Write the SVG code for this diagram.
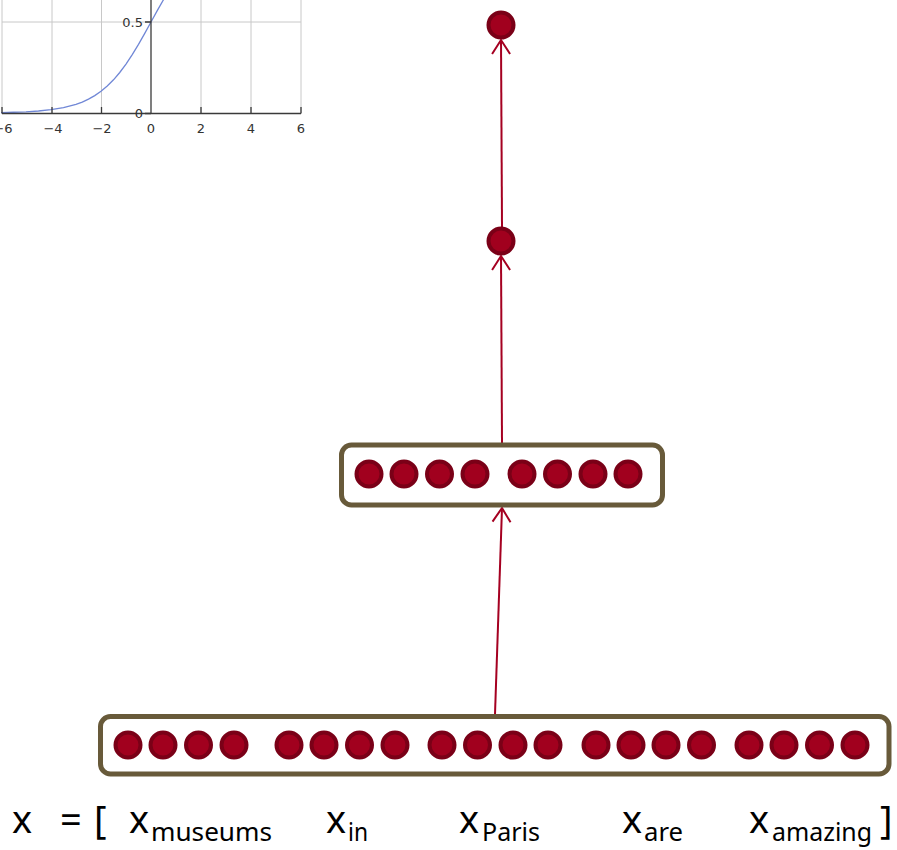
<svg xmlns="http://www.w3.org/2000/svg" width="897" height="850" viewBox="0 0 897 850">
<style>
.grid{stroke:#c8c8c8;stroke-width:1;fill:none}
.axis{stroke:#3a3a3a;stroke-width:1.3;fill:none}
.tick{font-family:"DejaVu Sans",sans-serif;font-size:13px;fill:#333}
.box{fill:#fff;stroke:#685a3a;stroke-width:5}
.unit{fill:#a1001e;stroke:#7a0017;stroke-width:4}
.conn{stroke:#a50021;stroke-width:2;fill:none}
.main{font-family:"Noto Sans",sans-serif;font-size:38px;fill:#000}
.sub{font-family:"Noto Sans",sans-serif;font-size:26px;fill:#000}
</style>
<defs>
<marker id="arr" viewBox="-16 -11 18 22" markerWidth="18" markerHeight="22" refX="0" refY="0" orient="auto" markerUnits="userSpaceOnUse">
<path d="M-14,-9 L0,0 L-14,9" fill="none" stroke="#a50021" stroke-width="2"/>
</marker>
</defs>
<rect width="897" height="850" fill="#fff"/>
<g id="sigmoid-plot">
<g class="grid">
<line x1="2" y1="0" x2="2" y2="113"/>
<line x1="52" y1="0" x2="52" y2="113"/>
<line x1="101.5" y1="0" x2="101.5" y2="113"/>
<line x1="201" y1="0" x2="201" y2="113"/>
<line x1="251" y1="0" x2="251" y2="113"/>
<line x1="301" y1="0" x2="301" y2="113"/>
<line x1="2" y1="22" x2="301" y2="22"/>
</g>
<polyline fill="none" stroke="#7087d6" stroke-width="1.3" points="1,112.55 13.5,112.26 26,111.78 38.5,111 51,109.73 63.5,107.67 76,104.37 82.25,102.06 88.5,99.19 94.75,95.65 101,91.3 107.25,86.06 113.5,79.8 119.75,72.47 126,64.06 132.25,54.61 138.5,44.3 144.75,33.32 151,22 157.25,10.68 163.5,-0.3 169.75,-10.6 176,-20"/>
<g class="axis">
<line x1="2" y1="113.5" x2="301" y2="113.5"/>
<line x1="151" y1="0" x2="151" y2="113.5"/>
<path d="M52,113.5V107 M101.5,113.5V107 M201,113.5V107 M251,113.5V107 M301,113.5V107 M2,113.5V107 M145,22H151 M145,113.5H151"/>
</g>
<text class="tick" x="143" y="26.5" text-anchor="end">0.5</text>
<text class="tick" x="143" y="118" text-anchor="end">0</text>
<text class="tick" x="3" y="133" text-anchor="middle">−6</text>
<text class="tick" x="53" y="133" text-anchor="middle">−4</text>
<text class="tick" x="102" y="133" text-anchor="middle">−2</text>
<text class="tick" x="151" y="133" text-anchor="middle">0</text>
<text class="tick" x="201" y="133" text-anchor="middle">2</text>
<text class="tick" x="251" y="133" text-anchor="middle">4</text>
<text class="tick" x="301" y="133" text-anchor="middle">6</text>
</g>
<g id="connectors">
<line class="conn" x1="495" y1="714" x2="502" y2="508" marker-end="url(#arr)"/>
<line class="conn" x1="502" y1="443" x2="501" y2="256" marker-end="url(#arr)"/>
<line class="conn" x1="502" y1="227" x2="501" y2="40" marker-end="url(#arr)"/>
</g>
<g id="output-node">
<circle class="unit" cx="501" cy="25" r="12.5"/>
</g>
<g id="hidden-node">
<circle class="unit" cx="501" cy="241" r="12.5"/>
</g>
<g id="hidden-layer">
<rect class="box" x="341.5" y="445" width="321" height="60" rx="10"/>
<circle class="unit" cx="369" cy="474" r="12.5"/>
<circle class="unit" cx="404" cy="474" r="12.5"/>
<circle class="unit" cx="439.5" cy="474" r="12.5"/>
<circle class="unit" cx="475" cy="474" r="12.5"/>
<circle class="unit" cx="522" cy="474" r="12.5"/>
<circle class="unit" cx="557.5" cy="474" r="12.5"/>
<circle class="unit" cx="593" cy="474" r="12.5"/>
<circle class="unit" cx="628" cy="474" r="12.5"/>
</g>
<g id="input-layer">
<rect class="box" x="100.5" y="716.5" width="788.5" height="57.5" rx="10"/>
<circle class="unit" cx="128" cy="745" r="12.5"/>
<circle class="unit" cx="163" cy="745" r="12.5"/>
<circle class="unit" cx="198.5" cy="745" r="12.5"/>
<circle class="unit" cx="234" cy="745" r="12.5"/>
<circle class="unit" cx="289" cy="745" r="12.5"/>
<circle class="unit" cx="324" cy="745" r="12.5"/>
<circle class="unit" cx="359.5" cy="745" r="12.5"/>
<circle class="unit" cx="395" cy="745" r="12.5"/>
<circle class="unit" cx="442" cy="745" r="12.5"/>
<circle class="unit" cx="477.5" cy="745" r="12.5"/>
<circle class="unit" cx="513" cy="745" r="12.5"/>
<circle class="unit" cx="548" cy="745" r="12.5"/>
<circle class="unit" cx="596" cy="745" r="12.5"/>
<circle class="unit" cx="631" cy="745" r="12.5"/>
<circle class="unit" cx="666" cy="745" r="12.5"/>
<circle class="unit" cx="701.5" cy="745" r="12.5"/>
<circle class="unit" cx="749" cy="745" r="12.5"/>
<circle class="unit" cx="784" cy="745" r="12.5"/>
<circle class="unit" cx="819.5" cy="745" r="12.5"/>
<circle class="unit" cx="855" cy="745" r="12.5"/>
</g>
<g id="input-label">
<text class="main" x="12" y="833">x</text>
<text class="main" x="60" y="833">=</text>
<text class="main" x="94" y="833">[</text>
<text class="main" x="129" y="833">x</text>
<text class="sub" x="151" y="841" textLength="121" lengthAdjust="spacingAndGlyphs">museums</text>
<text class="main" x="326" y="833">x</text>
<text class="sub" x="348" y="841" textLength="20" lengthAdjust="spacingAndGlyphs">in</text>
<text class="main" x="459" y="833">x</text>
<text class="sub" x="482" y="841" textLength="58" lengthAdjust="spacingAndGlyphs">Paris</text>
<text class="main" x="622" y="833">x</text>
<text class="sub" x="644" y="841" textLength="39" lengthAdjust="spacingAndGlyphs">are</text>
<text class="main" x="749" y="833">x</text>
<text class="sub" x="772" y="841" textLength="100" lengthAdjust="spacingAndGlyphs">amazing</text>
<text class="main" x="880" y="833">]</text>
</g>
</svg>
